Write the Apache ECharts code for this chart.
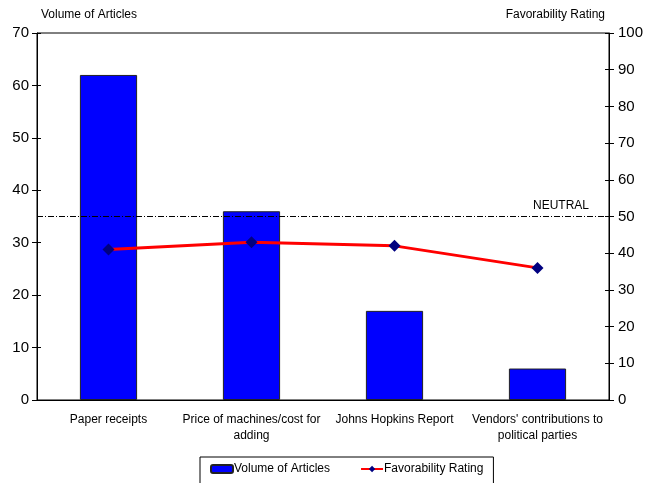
<!DOCTYPE html>
<html>
<head>
<meta charset="utf-8">
<script src="https://cdn.jsdelivr.net/npm/echarts@6/dist/echarts.min.js"></script>
<style>
  html, body { margin: 0; padding: 0; background: #fff; }
  #chart { width: 657px; height: 483px; }
</style>
</head>
<body>
<div id="chart"></div>
<script>
// Topics covered in press coverage
const categories = [
  'Paper receipts',
  'Price of machines/cost for\nadding',
  'Johns Hopkins Report',
  "Vendors' contributions to\npolitical parties"
];
// Number of articles per topic
const volumeOfArticles = [62, 36, 17, 6];
// Average favorability rating per topic (0-100 scale)
const favorabilityRating = [41, 43, 42, 36];
// Neutral favorability reference level
const neutralLevel = 50;

const font = 'Liberation Sans, Arial, sans-serif';
const chart = echarts.init(document.getElementById('chart'));

// Hidden twin axes that only draw inward tick marks, so ticks cross the axis lines
function innerTickAxis(max, position) {
  return {
    type: 'value', min: 0, max: max, interval: 10, position: position,
    axisLine: { show: false },
    axisTick: { show: true, inside: true, length: 4, lineStyle: { color: '#000' } },
    axisLabel: { show: false },
    splitLine: { show: false }
  };
}

chart.setOption({
  animation: false,
  textStyle: { fontFamily: font },
  grid: { left: 37, right: 48, top: 33, bottom: 83, show: true, borderColor: '#000', borderWidth: 1 },
  legend: {
    left: 200,
    top: 457,
    width: 293,
    height: 30,
    padding: [6, 10, 10, 10],
    borderColor: '#000',
    borderWidth: 1,
    itemGap: 30,
    itemWidth: 22,
    itemHeight: 8,
    textStyle: { fontFamily: font, fontSize: 12, color: '#000', padding: [0, 0, 0, -4] },
    data: ['Volume of Articles', 'Favorability Rating']
  },
  xAxis: {
    type: 'category',
    data: categories,
    axisLine: { lineStyle: { color: '#000' } },
    axisTick: { lineStyle: { color: '#000' }, length: 5 },
    axisLabel: { color: '#000', fontSize: 12, margin: 12, lineHeight: 16, interval: 0 }
  },
  yAxis: [
    {
      type: 'value',
      min: 0, max: 70, interval: 10,
      position: 'left',
      name: 'Volume of Articles',
      nameLocation: 'end',
      nameGap: 12,
      nameTextStyle: { color: '#000', fontSize: 12, align: 'left', padding: [0, 0, 0, 4] },
      axisLine: { show: true, lineStyle: { color: '#000' } },
      axisTick: { show: true, length: 5, lineStyle: { color: '#000' } },
      axisLabel: { color: '#000', fontSize: 15, margin: 8 },
      splitLine: { show: false }
    },
    {
      type: 'value',
      min: 0, max: 100, interval: 10,
      position: 'right',
      name: 'Favorability Rating',
      nameLocation: 'end',
      nameGap: 12,
      nameTextStyle: { color: '#000', fontSize: 12, align: 'right', padding: [0, 4, 0, 0] },
      axisLine: { show: true, lineStyle: { color: '#000' } },
      axisTick: { show: true, length: 5, lineStyle: { color: '#000' } },
      axisLabel: { color: '#000', fontSize: 15, margin: 9 },
      splitLine: { show: false }
    },
    innerTickAxis(70, 'left'),
    innerTickAxis(100, 'right')
  ],
  series: [
    {
      name: 'Volume of Articles',
      type: 'bar',
      yAxisIndex: 0,
      data: volumeOfArticles,
      barWidth: '40%',
      itemStyle: { color: '#0000FF', borderColor: '#222', borderWidth: 1 }
    },
    {
      name: 'Favorability Rating',
      type: 'line',
      yAxisIndex: 1,
      data: favorabilityRating,
      symbol: 'diamond',
      symbolSize: 12,
      lineStyle: { color: '#FF0000', width: 3 },
      itemStyle: { color: '#000080' },
      z: 5,
      markLine: {
        silent: true,
        symbol: 'none',
        lineStyle: { color: '#000', width: 1, type: [6, 2, 1, 2] },
        label: {
          show: true,
          position: 'insideEndTop',
          formatter: 'NEUTRAL',
          color: '#000',
          fontSize: 12,
          fontFamily: font,
          distance: [20, 5]
        },
        data: [{ yAxis: neutralLevel }]
      }
    }
  ]
});
</script>
</body>
</html>
